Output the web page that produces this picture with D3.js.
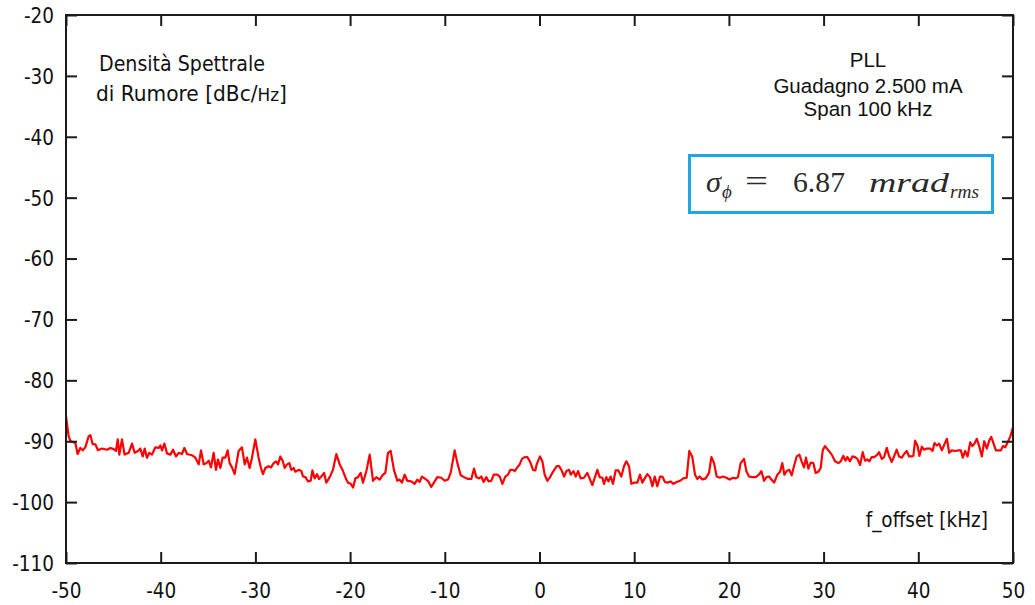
<!DOCTYPE html>
<html><head><meta charset="utf-8">
<script src="https://cdn.jsdelivr.net/npm/d3@7"></script>
<style>body{margin:0;background:#fff}svg{display:block}</style>
</head><body><svg id="c" width="1035" height="605"></svg>
<script>
// Offset frequency (kHz) of each trace sample
const freqKHz = [
-50.00,-49.72,-49.51,-49.01,-48.77,-48.49,-48.24,-47.96,-47.61,-47.43,-47.18,-46.90,-46.62,-46.20,-45.67,-45.32,-44.97,-44.72,-44.54,-44.37,-44.09,-43.81,-43.38,-43.03,-42.75,-42.40,-42.15,-41.90,-41.69,-41.45,-41.20,-40.92,-40.57,-40.21,-40.04,-39.86,-39.62,-39.33,-38.98,-38.70,-38.38,-38.10,-37.75,-37.50,-37.22,-36.70,-36.34,-35.99,-35.74,-35.46,-35.18,-34.93,-34.69,-34.41,-34.16,-33.95,-33.70,-33.46,-33.17,-32.93,-32.72,-32.47,-32.19,-31.77,-31.42,-31.13,-30.89,-30.61,-30.36,-30.01,-29.66,-29.41,-29.20,-28.95,-28.60,-28.35,-28.07,-27.82,-27.61,-27.37,-27.12,-26.91,-26.66,-26.42,-26.21,-25.96,-25.78,-25.43,-25.15,
-24.97,-24.72,-24.44,-24.16,-23.98,-23.74,-23.49,-23.28,-23.04,-22.75,-22.51,-22.15,-21.81,-21.45,-21.10,-20.75,-20.40,-20.22,-19.94,-19.69,-19.44,-19.17,-18.88,-18.64,-18.28,-17.93,-17.58,-17.23,-16.88,-16.52,-16.28,-16.00,-15.72,-15.37,-15.01,-14.77,-14.52,-14.24,-13.96,-13.54,-13.19,-12.90,-12.66,-12.41,-12.13,-11.78,-11.43,-11.07,-10.79,-10.37,-10.01,-9.66,-9.38,-8.96,-8.67,-8.32,-7.97,-7.55,-7.20,-6.91,-6.67,-6.39,-6.14,-5.90,-5.61,-5.37,-5.09,-4.84,-4.45,-4.20,-3.92,-3.61,-3.33,-3.08,-2.80,-2.62,-2.34,-2.09,-1.85,-1.56,-1.28,-0.96,-0.68,-0.44,
-0.30,0.05,0.30,0.55,0.83,1.11,1.47,1.82,2.07,2.31,2.60,2.84,3.13,3.30,3.59,3.83,4.07,4.35,4.70,5.05,5.34,5.58,5.83,6.11,6.35,6.64,6.81,7.06,7.27,7.52,7.76,8.04,8.32,8.64,8.92,9.17,9.45,9.70,9.98,10.33,10.61,10.86,11.11,11.39,11.67,11.92,12.17,12.44,12.73,12.97,13.25,13.50,13.85,14.13,14.49,14.84,15.19,15.54,15.82,16.14,16.42,16.67,16.91,17.20,17.55,17.90,18.15,18.43,18.71,19.03,19.38,19.73,20.08,20.43,20.72,20.96,21.24,21.60,21.84,22.12,22.48,22.83,23.18,23.43,23.71,23.96,24.24,24.49,24.77,
25.12,25.40,25.64,25.86,26.10,26.38,26.63,26.87,27.16,27.44,27.68,27.93,28.14,28.39,28.64,28.92,29.16,29.45,29.69,29.91,30.15,30.51,30.86,31.21,31.56,31.81,32.09,32.30,32.51,32.79,33.04,33.32,33.57,33.85,34.13,34.38,34.62,34.84,35.08,35.36,35.61,35.86,36.14,36.39,36.67,36.91,37.20,37.44,37.72,37.97,38.25,38.50,38.78,39.03,39.31,39.48,39.66,39.91,40.12,40.37,40.61,40.90,41.25,41.50,41.71,41.96,42.20,42.49,42.73,43.02,43.26,43.54,43.89,44.24,44.49,44.70,44.95,45.20,45.48,45.72,45.93,46.18,46.43,46.71,46.96,47.24,47.49,47.70,47.95,48.19,48.47,48.72,48.93,49.18,49.43,49.72,50.00
];
// Noise spectral density (dBc/Hz) at each frequency
const noiseDbc = [
-85.9,-89.2,-90.0,-90.3,-92.1,-91.1,-91.5,-91.0,-89.2,-89.0,-90.5,-90.5,-91.5,-91.2,-91.4,-91.1,-91.3,-91.6,-89.7,-92.2,-89.7,-92.2,-91.9,-90.4,-91.9,-91.6,-91.2,-92.5,-91.2,-92.7,-91.9,-92.2,-91.0,-91.1,-90.7,-91.5,-90.4,-92.0,-92.2,-91.4,-92.5,-91.9,-92.1,-91.1,-92.1,-92.3,-92.7,-93.8,-91.5,-93.8,-93.6,-93.2,-94.3,-91.9,-94.7,-93.0,-94.4,-92.7,-92.7,-91.5,-93.6,-94.3,-95.4,-91.6,-91.0,-93.8,-92.7,-94.4,-92.7,-89.7,-92.7,-94.4,-95.4,-94.4,-94.1,-94.3,-93.6,-93.3,-93.8,-92.5,-93.2,-94.4,-93.8,-93.6,-94.7,-94.4,-95.0,-94.7,-94.9,
-95.8,-95.9,-96.6,-96.5,-94.8,-96.1,-95.4,-96.2,-95.8,-95.2,-96.8,-95.9,-94.7,-92.1,-93.8,-94.9,-96.3,-96.8,-97.0,-97.6,-96.1,-95.9,-95.2,-96.8,-94.9,-92.2,-96.5,-95.9,-96.3,-95.5,-95.2,-91.9,-91.6,-94.7,-96.5,-96.3,-96.8,-95.5,-96.5,-96.6,-97.0,-96.3,-96.7,-95.8,-96.1,-96.5,-97.5,-96.6,-95.9,-96.0,-96.5,-96.3,-95.2,-91.5,-93.6,-95.6,-95.9,-96.2,-96.2,-94.5,-95.9,-96.1,-95.8,-96.7,-95.9,-96.6,-96.5,-95.5,-95.5,-95.8,-97.0,-95.8,-95.5,-94.7,-94.7,-94.9,-94.3,-93.8,-92.9,-92.6,-92.6,-93.5,-94.7,-94.8,
-93.8,-92.5,-93.3,-95.5,-96.5,-95.9,-94.9,-94.1,-94.1,-94.7,-95.8,-94.9,-94.7,-95.5,-94.9,-95.8,-94.9,-96.1,-96.0,-95.2,-96.3,-97.2,-96.0,-94.7,-95.9,-96.0,-97.0,-95.9,-96.6,-95.8,-97.0,-94.8,-94.8,-95.8,-94.1,-93.3,-94.1,-97.0,-96.8,-96.8,-95.5,-96.8,-96.1,-95.4,-95.9,-97.4,-95.8,-97.4,-95.8,-95.8,-96.7,-96.8,-96.6,-97.0,-96.7,-96.5,-96.1,-96.0,-91.6,-92.6,-95.5,-96.2,-95.8,-96.3,-96.1,-95.2,-92.6,-93.6,-95.8,-96.0,-95.8,-96.0,-96.3,-96.0,-96.1,-95.9,-93.6,-92.9,-94.9,-95.8,-95.9,-95.9,-95.5,-94.9,-96.5,-95.9,-95.8,-96.3,-96.8,
-95.5,-95.0,-93.6,-95.5,-94.9,-94.7,-95.6,-94.1,-92.5,-92.2,-93.3,-94.3,-92.7,-94.5,-93.5,-93.6,-95.2,-95.0,-94.4,-91.5,-90.8,-91.5,-92.2,-93.3,-93.6,-93.3,-92.4,-93.2,-92.6,-93.3,-92.5,-92.6,-92.9,-93.9,-91.8,-93.2,-93.0,-93.3,-92.6,-92.6,-92.3,-91.8,-92.9,-92.6,-91.1,-92.4,-93.4,-92.5,-91.4,-92.5,-92.7,-92.1,-91.6,-92.5,-92.5,-92.4,-89.9,-90.7,-92.4,-90.9,-91.4,-91.2,-91.2,-91.6,-90.3,-90.7,-90.4,-91.5,-90.6,-89.6,-91.9,-91.5,-91.6,-91.5,-91.5,-92.7,-91.6,-92.5,-90.2,-90.8,-90.4,-89.6,-90.8,-92.5,-90.0,-91.2,-89.9,-89.3,-90.4,-91.5,-91.5,-91.5,-90.8,-91.0,-90.2,-89.2,-87.7
];
const xTickValues = [-50,-40,-30,-20,-10,0,10,20,30,40,50];
const yTickValues = [-110,-100,-90,-80,-70,-60,-50,-40,-30,-20];
const yTitleLines = ["Densità Spettrale", "di Rumore [dBc/"];
const yTitleUnit = "Hz";
const xTitle = "f_offset [kHz]";
const infoLines = ["PLL", "Guadagno 2.500 mA", "Span 100 kHz"];
const sigmaValue = "6.87";

(function () {
const svg = d3.select("#c");
const W = 1035, H = 605;
const mLeft = 66, mRight = 1013, mTop = 15, mBottom = 563;
const sansC = '"DejaVu Sans Condensed","DejaVu Sans",sans-serif';
const fmt = d => String(d);

svg.append("rect").attr("width", W).attr("height", H).attr("fill", "#fff");

const x = d3.scaleLinear().domain([-50, 50]).range([mLeft, mRight]);
const y = d3.scaleLinear().domain([-110, -20]).range([mBottom, mTop]);

const pts = freqKHz.map((f, i) => [f, noiseDbc[i]]);
svg.append("path").datum(pts)
  .attr("fill", "none").attr("stroke", "#ff0000").attr("stroke-width", 2.2)
  .attr("stroke-linejoin", "round")
  .attr("d", d3.line().x(d => x(d[0])).y(d => y(d[1])));

const tickLen = 11;
const axisColor = "#1a1a1a";
const gB = svg.append("g").attr("transform", `translate(0,${mBottom})`)
  .call(d3.axisBottom(x).tickValues(xTickValues).tickSize(-tickLen).tickFormat(fmt));
const gT = svg.append("g").attr("transform", `translate(0,${mTop})`)
  .call(d3.axisTop(x).tickValues(xTickValues).tickSize(-tickLen).tickFormat(""));
const gL = svg.append("g").attr("transform", `translate(${mLeft},0)`)
  .call(d3.axisLeft(y).tickValues(yTickValues).tickSize(-tickLen).tickFormat(fmt));
const gR = svg.append("g").attr("transform", `translate(${mRight},0)`)
  .call(d3.axisRight(y).tickValues(yTickValues).tickSize(-tickLen).tickFormat(""));

[gB, gT, gL, gR].forEach(g => {
  g.select(".domain").remove();
  g.selectAll(".tick line").attr("stroke", axisColor).attr("stroke-width", 2);
  g.selectAll(".tick text").attr("font-family", sansC).attr("font-size", 20.5).attr("fill", "#111");
});
gL.selectAll(".tick text").attr("dy", "0.36em").attr("x", -12);
gB.selectAll(".tick text").attr("dy", "0.71em").attr("y", 20);

svg.append("rect").attr("x", mLeft).attr("y", mTop)
  .attr("width", mRight - mLeft).attr("height", mBottom - mTop)
  .attr("fill", "none").attr("stroke", axisColor).attr("stroke-width", 2);

svg.append("text").attr("x", 99).attr("y", 71)
  .attr("font-family", sansC).attr("font-size", 21.5).attr("fill", "#111")
  .attr("textLength", 166).attr("lengthAdjust", "spacingAndGlyphs")
  .text(yTitleLines[0]);
const t2 = svg.append("text").attr("x", 96).attr("y", 101)
  .attr("font-family", sansC).attr("font-size", 21.5).attr("fill", "#111")
  .attr("textLength", 191).attr("lengthAdjust", "spacingAndGlyphs");
t2.append("tspan").text(yTitleLines[1]);
t2.append("tspan").attr("font-size", 18).text(yTitleUnit);
t2.append("tspan").text("]");

svg.append("text").attr("x", 988).attr("y", 527).attr("text-anchor", "end")
  .attr("font-family", sansC).attr("font-size", 20.5).attr("fill", "#111")
  .text(xTitle);

const infoBase = [67, 93, 116];
infoLines.forEach((s, i) => {
  svg.append("text").attr("x", 868).attr("y", infoBase[i]).attr("text-anchor", "middle")
    .attr("font-family", '"Liberation Sans",Arial,sans-serif').attr("font-size", 20.5).attr("fill", "#111")
    .text(s);
});

svg.append("rect").attr("x", 689.5).attr("y", 155.5).attr("width", 303).attr("height", 57)
  .attr("fill", "#fff").attr("stroke", "#1ea6e0").attr("stroke-width", 3);
const serif = '"Liberation Serif","Times New Roman",serif';
const mt = (s, xx, yy, size, italic, len) => {
  const t = svg.append("text").attr("x", xx).attr("y", yy)
    .attr("font-family", serif).attr("font-size", size).attr("fill", "#2a2a2a")
    .attr("font-style", italic ? "italic" : "normal").text(s);
  if (len) t.attr("textLength", len).attr("lengthAdjust", "spacingAndGlyphs");
  return t;
};
mt("σ", 706, 192, 30, true, 15);
mt("ϕ", 722, 198, 19, true);
mt("=", 745, 191, 29, false, 23);
mt(sigmaValue, 793, 192, 29, false, 52);
mt("mrad", 869, 192, 28, true, 80);
mt("rms", 950, 198, 19, true, 29);
})();
</script>
</body></html>
